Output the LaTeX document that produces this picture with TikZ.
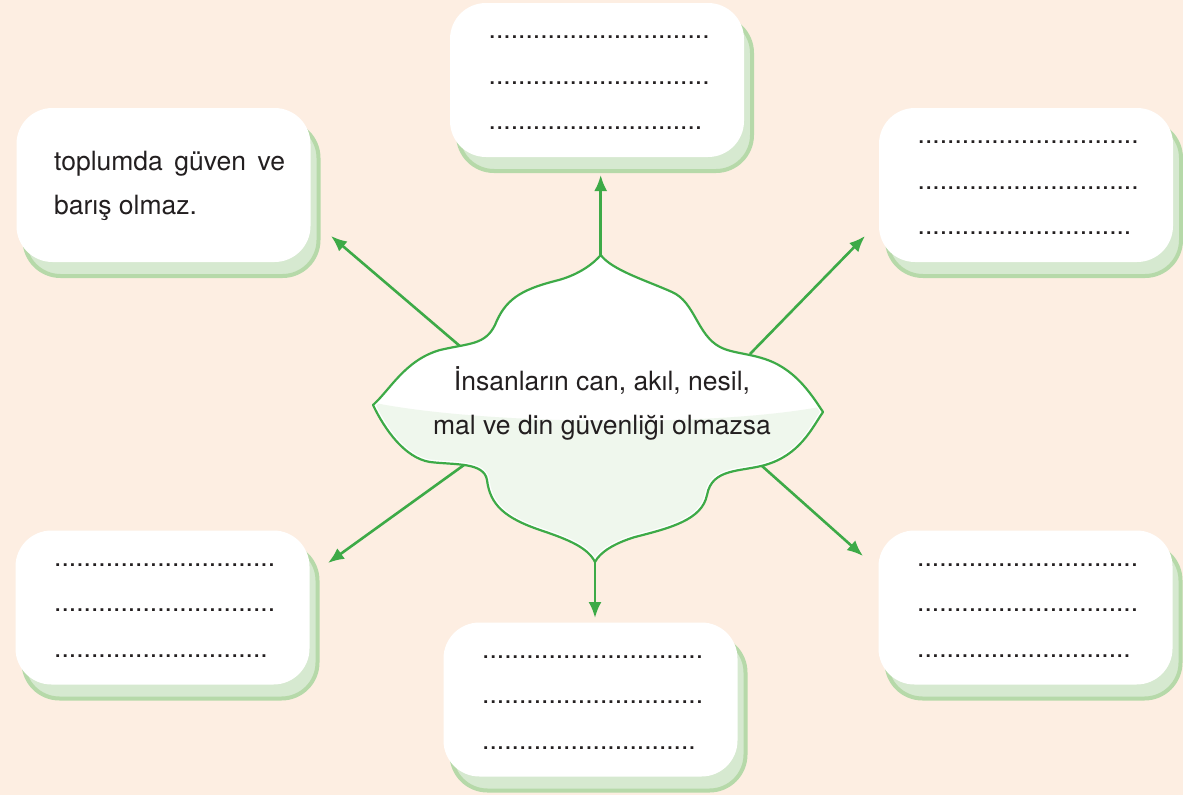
\documentclass[tikz,border=0pt]{standalone}
\usepackage{fontspec}
\setmainfont{TeX Gyre Heros}
\usetikzlibrary{arrows.meta,shadows}

\definecolor{peach}{HTML}{FDEEE2}
\definecolor{leaf}{HTML}{3DAA47}
\definecolor{shadedge}{HTML}{B6D9A9}
\definecolor{shadfill}{HTML}{D6E9D0}
\definecolor{paleleaf}{HTML}{EFF7ED}
\definecolor{ink}{HTML}{231F20}
\newcommand{\cardline}{..............................}
\newcommand{\cardlast}{.............................}

\begin{document}
\begin{tikzpicture}[x=1pt,y=-1pt,
  card/.style={fill=white, rounded corners=36pt, minimum width=294pt, minimum height=154pt, inner sep=0pt,
    general shadow={fill=shadfill, draw=shadedge, line width=4pt, shadow xshift=8pt, shadow yshift=-14pt}},
  blanks/.style={anchor=base west, align=left, inner sep=0pt, text=ink, font=\fontsize{26.5}{45.5}\selectfont},
  words/.style={inner sep=0pt, text=ink, font=\fontsize{26.5}{44}\selectfont},
  link/.style={leaf, line width=2.6pt, -{Latex[length=16pt,width=13pt]}}]
   \useasboundingbox (0,0) rectangle (1183,795);
   \fill[peach] (0,0) rectangle (1183,795);
   % cards (text anchored at the last line)
   \node[card] (tl) at (163.5,185) {};
   \node[card] (tc) at (597,80) {};
   \node[card] (tr) at (1026,185) {};
   \node[card] (bl) at (162.5,607.5) {};
   \node[card] (bc) at (590.5,699.5) {};
   \node[card] (br) at (1025.5,607.5) {};
   \node[words, anchor=base west, align=left] (answer) at (54,214) {\makebox[231pt][s]{toplumda güven ve}\\barış olmaz.};
   \node[blanks] (tcdots) at ([shift={(38.7,127)}]tc.north west) {\cardline\\\cardline\\\cardlast};
   \node[blanks] (trdots) at ([shift={(38.7,127)}]tr.north west) {\cardline\\\cardline\\\cardlast};
   \node[blanks] (bldots) at ([shift={(38.7,127)}]bl.north west) {\cardline\\\cardline\\\cardlast};
   \node[blanks] (bcdots) at ([shift={(38.7,127)}]bc.north west) {\cardline\\\cardline\\\cardlast};
   \node[blanks] (brdots) at ([shift={(38.7,127)}]br.north west) {\cardline\\\cardline\\\cardlast};
   % central cloud
   \coordinate (tipT) at (600.7,255);
   \coordinate (tipR) at (823,412);
   \coordinate (tipB) at (595,562);
   \coordinate (tipL) at (373,405);
   \coordinate (kUL) at (461,347);
   \coordinate (kUR) at (750,354);
   \coordinate (kLL) at (464,465);
   \coordinate (kLR) at (762,466);
   \coordinate (eUL) at (331,236);
   \coordinate (eT) at (600.7,175);
   \coordinate (eUR) at (865,236);
   \coordinate (eLL) at (328,563);
   \coordinate (eB) at (595,618);
   \coordinate (eLR) at (863,556);
   \draw[link] (kUL) -- (eUL);
   \draw[link] (tipT) -- (eT);
   \draw[link] (kUR) -- (eUR);
   \draw[link] (kLL) -- (eLL);
   \draw[link] (tipB) -- (eB);
   \draw[link] (kLR) -- (eLR);
   \def\cloudpath{(tipT) .. controls (612,270) and (645,280) .. (672,292)
     .. controls (695,302) and (697,335) .. (720,347)
     .. controls (735,355) and (760,353) .. (782,367)
     .. controls (800,378) and (812,395) .. (tipR)
     .. controls (812,428) and (800,455) .. (765,465)
     .. controls (740,472) and (712,468) .. (707,495)
     .. controls (702,520) and (670,528) .. (635,537)
     .. controls (615,543) and (600,552) .. (tipB)
     .. controls (588,548) and (570,540) .. (540,530)
     .. controls (505,518) and (490,505) .. (487,480)
     .. controls (484,462) and (455,465) .. (430,462)
     .. controls (405,458) and (385,430) .. (tipL)
     .. controls (390,390) and (405,360) .. (440,350)
     .. controls (470,343) and (485,345) .. (495,325)
     .. controls (505,300) and (520,290) .. (555,281)
     .. controls (580,275) and (595,262) .. (tipT) -- cycle}
   \fill[white] \cloudpath;
   \begin{scope}
     \clip \cloudpath;
     \fill[paleleaf] (370,402) .. controls (480,425) and (720,428) .. (830,405) -- (830,580) -- (360,580) -- cycle;
     \draw[white, line width=5pt] \cloudpath;
   \end{scope}
   \draw[leaf, line width=2.2pt, line join=round] \cloudpath;
   \node[words, anchor=base, align=center] (theme) at (602,434) {İnsanların can, akıl, nesil,\\mal ve din güvenliği olmazsa};
\end{tikzpicture}
\end{document}
